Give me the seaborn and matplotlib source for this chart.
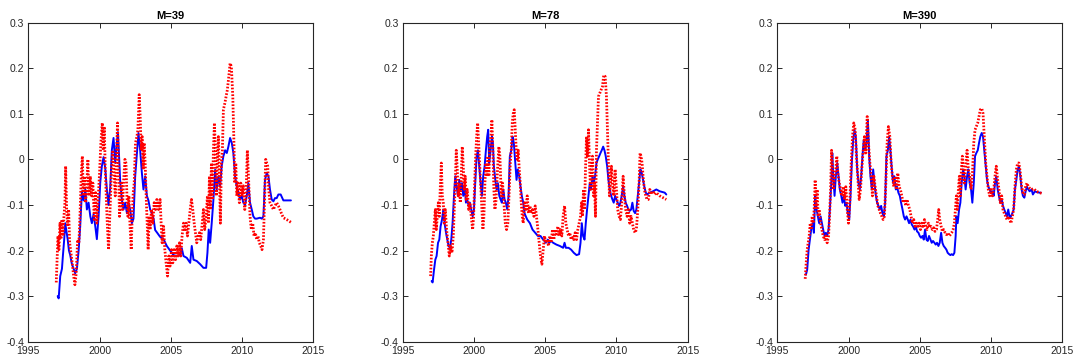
import matplotlib
matplotlib.use("Agg")
import matplotlib.pyplot as plt
from matplotlib.ticker import FuncFormatter
import seaborn as sns
import pandas as pd

# ---------------- data (year, value) ----------------
m39_blue = [(1997.06,-0.300),(1997.13,-0.305),(1997.24,-0.256),(1997.36,-0.240),(1997.43,-0.210),(1997.52,-0.175),(1997.59,-0.140),(1997.66,-0.155),(1997.76,-0.175),(1997.85,-0.200),(1997.94,-0.210),(1998.06,-0.230),(1998.18,-0.240),(1998.29,-0.250),(1998.41,-0.240),(1998.53,-0.200),(1998.64,-0.147),(1998.76,-0.070),(1998.88,-0.090),(1999.00,-0.066),(1999.11,-0.110),(1999.23,-0.095),(1999.35,-0.125),(1999.46,-0.140),(1999.58,-0.120),(1999.70,-0.147),(1999.81,-0.175),(1999.93,-0.125),(2000.05,-0.050),(2000.16,-0.015),(2000.28,0.005),(2000.40,-0.020),(2000.51,-0.066),(2000.63,-0.100),(2000.75,-0.060),(2000.86,0.020),(2000.98,0.047),(2001.10,-0.008),(2001.21,0.036),(2001.29,0.060),(2001.38,0.000),(2001.45,-0.050),(2001.57,-0.090),(2001.68,-0.110),(2001.80,-0.095),(2001.92,-0.118),(2002.03,-0.095),(2002.15,-0.110),(2002.27,-0.140),(2002.38,-0.130),(2002.50,-0.037),(2002.62,0.014),(2002.73,0.058),(2002.85,0.020),(2002.97,-0.030),(2003.08,-0.066),(2003.20,-0.037),(2003.32,-0.080),(2003.43,-0.090),(2003.55,-0.110),(2003.67,-0.118),(2003.79,-0.130),(2003.90,-0.155),(2004.02,-0.160),(2004.25,-0.170),(2004.49,-0.175),(2004.72,-0.190),(2004.95,-0.200),(2005.19,-0.210),(2005.42,-0.212),(2005.65,-0.210),(2005.77,-0.195),(2005.89,-0.212),(2006.12,-0.216),(2006.36,-0.227),(2006.47,-0.190),(2006.59,-0.220),(2006.82,-0.223),(2007.06,-0.230),(2007.29,-0.238),(2007.48,-0.238),(2007.57,-0.205),(2007.66,-0.154),(2007.76,-0.183),(2007.87,-0.140),(2007.99,-0.088),(2008.11,-0.023),(2008.22,-0.066),(2008.34,-0.037),(2008.46,-0.060),(2008.57,-0.015),(2008.69,0.007),(2008.81,0.020),(2008.93,0.014),(2009.04,0.028),(2009.16,0.047),(2009.28,0.036),(2009.39,0.014),(2009.51,-0.037),(2009.63,-0.060),(2009.74,-0.073),(2009.86,-0.088),(2009.98,-0.080),(2010.09,-0.095),(2010.21,-0.100),(2010.33,-0.080),(2010.44,-0.052),(2010.56,-0.095),(2010.68,-0.110),(2010.79,-0.125),(2010.91,-0.130),(2011.03,-0.130),(2011.26,-0.128),(2011.38,-0.130),(2011.50,-0.125),(2011.61,-0.045),(2011.73,-0.030),(2011.85,-0.037),(2011.96,-0.066),(2012.08,-0.088),(2012.20,-0.092),(2012.31,-0.085),(2012.43,-0.085),(2012.55,-0.077),(2012.71,-0.077),(2012.90,-0.090),(2013.13,-0.090),(2013.43,-0.090)]

m39_red = [(1996.96,-0.270),(1997.01,-0.227),(1997.08,-0.168),(1997.15,-0.198),(1997.22,-0.140),(1997.29,-0.175),(1997.36,-0.132),(1997.43,-0.168),(1997.50,-0.125),(1997.57,-0.095),(1997.62,-0.015),(1997.69,-0.110),(1997.76,-0.147),(1997.83,-0.110),(1997.90,-0.183),(1997.99,-0.205),(1998.08,-0.227),(1998.18,-0.256),(1998.27,-0.275),(1998.36,-0.250),(1998.46,-0.176),(1998.55,-0.183),(1998.64,-0.110),(1998.71,-0.037),(1998.79,0.007),(1998.86,-0.080),(1998.93,-0.037),(1999.02,-0.095),(1999.11,-0.052),(1999.18,0.000),(1999.25,-0.080),(1999.35,-0.037),(1999.44,-0.080),(1999.53,-0.052),(1999.63,-0.132),(1999.72,-0.073),(1999.81,-0.140),(1999.91,-0.080),(2000.00,-0.030),(2000.09,0.036),(2000.19,0.080),(2000.26,0.020),(2000.33,0.072),(2000.40,-0.022),(2000.47,-0.080),(2000.54,-0.140),(2000.63,-0.198),(2000.70,-0.140),(2000.77,-0.080),(2000.84,-0.022),(2000.93,0.020),(2001.03,-0.037),(2001.10,-0.080),(2001.17,-0.008),(2001.26,0.080),(2001.33,-0.022),(2001.40,-0.125),(2001.47,-0.095),(2001.54,-0.052),(2001.61,-0.110),(2001.68,-0.052),(2001.78,0.000),(2001.85,-0.008),(2001.92,-0.080),(2001.99,-0.125),(2002.06,-0.080),(2002.13,-0.140),(2002.22,-0.198),(2002.29,-0.125),(2002.36,-0.073),(2002.43,-0.052),(2002.52,0.036),(2002.62,0.050),(2002.69,0.065),(2002.78,0.142),(2002.85,0.094),(2002.92,0.020),(2002.99,0.050),(2003.06,-0.022),(2003.13,0.036),(2003.20,-0.008),(2003.27,-0.080),(2003.34,-0.140),(2003.41,-0.198),(2003.48,-0.125),(2003.55,-0.154),(2003.64,-0.110),(2003.74,-0.140),(2003.83,-0.095),(2003.93,-0.110),(2004.02,-0.088),(2004.14,-0.110),(2004.25,-0.088),(2004.32,-0.140),(2004.39,-0.183),(2004.49,-0.147),(2004.58,-0.198),(2004.67,-0.227),(2004.77,-0.256),(2004.86,-0.212),(2004.95,-0.234),(2005.05,-0.198),(2005.14,-0.227),(2005.23,-0.198),(2005.33,-0.220),(2005.42,-0.190),(2005.51,-0.212),(2005.61,-0.183),(2005.70,-0.212),(2005.79,-0.168),(2005.89,-0.140),(2005.98,-0.154),(2006.07,-0.140),(2006.17,-0.168),(2006.26,-0.140),(2006.36,-0.110),(2006.45,-0.088),(2006.54,-0.110),(2006.64,-0.140),(2006.73,-0.161),(2006.82,-0.183),(2006.92,-0.168),(2007.01,-0.161),(2007.10,-0.176),(2007.20,-0.140),(2007.29,-0.110),(2007.38,-0.154),(2007.48,-0.125),(2007.57,-0.080),(2007.64,-0.140),(2007.71,-0.037),(2007.78,-0.110),(2007.85,-0.008),(2007.92,-0.088),(2007.99,0.020),(2008.06,0.080),(2008.13,0.020),(2008.20,-0.080),(2008.27,0.007),(2008.34,0.050),(2008.41,-0.037),(2008.48,-0.140),(2008.55,-0.008),(2008.62,0.020),(2008.69,0.109),(2008.79,0.123),(2008.88,0.138),(2008.97,0.153),(2009.07,0.182),(2009.16,0.211),(2009.25,0.204),(2009.35,0.138),(2009.42,0.050),(2009.49,-0.052),(2009.56,-0.008),(2009.63,-0.080),(2009.72,-0.052),(2009.81,-0.095),(2009.91,-0.052),(2010.00,-0.080),(2010.09,-0.058),(2010.19,-0.110),(2010.28,-0.080),(2010.37,0.020),(2010.47,-0.052),(2010.56,-0.125),(2010.65,-0.154),(2010.75,-0.140),(2010.84,-0.168),(2010.93,-0.161),(2011.03,-0.176),(2011.12,-0.168),(2011.21,-0.183),(2011.31,-0.190),(2011.40,-0.198),(2011.50,-0.176),(2011.59,-0.080),(2011.66,0.000),(2011.73,-0.008),(2011.80,-0.015),(2011.87,-0.066),(2011.96,-0.095),(2012.08,-0.102),(2012.20,-0.110),(2012.31,-0.102),(2012.43,-0.095),(2012.55,-0.102),(2012.66,-0.110),(2012.78,-0.120),(2012.90,-0.128),(2013.13,-0.132),(2013.43,-0.138)]

m78_blue = [(1997.03,-0.267),(1997.10,-0.270),(1997.20,-0.242),(1997.29,-0.220),(1997.38,-0.212),(1997.48,-0.183),(1997.57,-0.176),(1997.66,-0.147),(1997.76,-0.132),(1997.85,-0.110),(1997.94,-0.140),(1998.04,-0.161),(1998.13,-0.176),(1998.22,-0.190),(1998.32,-0.194),(1998.41,-0.176),(1998.50,-0.140),(1998.60,-0.080),(1998.69,-0.037),(1998.79,-0.060),(1998.88,-0.080),(1998.97,-0.045),(1999.07,-0.066),(1999.16,-0.052),(1999.25,-0.080),(1999.35,-0.060),(1999.44,-0.095),(1999.53,-0.088),(1999.63,-0.102),(1999.72,-0.095),(1999.81,-0.110),(1999.91,-0.125),(2000.00,-0.110),(2000.09,-0.052),(2000.19,0.007),(2000.28,0.020),(2000.37,-0.015),(2000.47,-0.052),(2000.56,-0.080),(2000.65,-0.037),(2000.75,-0.015),(2000.84,0.020),(2000.93,0.050),(2001.00,0.065),(2001.07,-0.008),(2001.17,0.020),(2001.26,0.050),(2001.33,0.036),(2001.40,-0.015),(2001.50,-0.045),(2001.59,-0.066),(2001.68,-0.052),(2001.78,-0.080),(2001.87,-0.088),(2001.96,-0.095),(2002.06,-0.066),(2002.15,-0.088),(2002.24,-0.095),(2002.34,-0.110),(2002.43,-0.080),(2002.52,0.007),(2002.62,0.020),(2002.71,0.050),(2002.80,0.036),(2002.90,-0.008),(2002.99,-0.045),(2003.08,-0.022),(2003.18,-0.037),(2003.27,-0.060),(2003.36,-0.080),(2003.46,-0.095),(2003.55,-0.118),(2003.64,-0.125),(2003.74,-0.132),(2003.93,-0.140),(2004.11,-0.154),(2004.30,-0.161),(2004.49,-0.168),(2004.67,-0.168),(2004.86,-0.176),(2005.05,-0.183),(2005.19,-0.176),(2005.28,-0.183),(2005.42,-0.179),(2005.56,-0.183),(2005.79,-0.187),(2006.03,-0.190),(2006.26,-0.194),(2006.36,-0.183),(2006.45,-0.194),(2006.64,-0.194),(2006.82,-0.198),(2007.01,-0.205),(2007.20,-0.210),(2007.38,-0.208),(2007.48,-0.183),(2007.57,-0.140),(2007.66,-0.168),(2007.76,-0.176),(2007.85,-0.140),(2007.94,-0.110),(2008.04,-0.080),(2008.13,-0.052),(2008.22,-0.066),(2008.32,-0.037),(2008.41,-0.052),(2008.50,-0.037),(2008.60,-0.008),(2008.69,0.000),(2008.79,0.007),(2008.88,0.014),(2008.97,0.020),(2009.07,0.028),(2009.16,0.020),(2009.25,0.007),(2009.35,-0.015),(2009.44,-0.045),(2009.53,-0.066),(2009.63,-0.080),(2009.72,-0.088),(2009.81,-0.095),(2009.91,-0.080),(2010.00,-0.088),(2010.09,-0.095),(2010.19,-0.102),(2010.28,-0.095),(2010.37,-0.080),(2010.47,-0.060),(2010.56,-0.080),(2010.65,-0.095),(2010.75,-0.102),(2010.84,-0.110),(2010.93,-0.113),(2011.03,-0.110),(2011.12,-0.095),(2011.21,-0.113),(2011.31,-0.118),(2011.40,-0.110),(2011.50,-0.080),(2011.59,-0.052),(2011.68,-0.022),(2011.78,-0.030),(2011.87,-0.045),(2011.96,-0.060),(2012.06,-0.073),(2012.15,-0.077),(2012.34,-0.073),(2012.57,-0.070),(2012.80,-0.066),(2013.04,-0.070),(2013.39,-0.073),(2013.50,-0.077)]

m78_red = [(1996.96,-0.256),(1997.01,-0.212),(1997.08,-0.183),(1997.15,-0.168),(1997.22,-0.140),(1997.29,-0.110),(1997.36,-0.154),(1997.43,-0.125),(1997.50,-0.095),(1997.57,-0.125),(1997.64,-0.060),(1997.71,-0.008),(1997.78,-0.080),(1997.85,-0.095),(1997.92,-0.140),(1997.99,-0.110),(1998.08,-0.154),(1998.18,-0.183),(1998.27,-0.212),(1998.36,-0.190),(1998.46,-0.205),(1998.55,-0.168),(1998.62,-0.110),(1998.69,-0.052),(1998.76,0.020),(1998.83,-0.022),(1998.90,-0.080),(1998.97,-0.052),(1999.04,-0.095),(1999.11,-0.037),(1999.18,0.028),(1999.25,-0.015),(1999.32,-0.066),(1999.39,-0.037),(1999.46,-0.088),(1999.53,-0.066),(1999.63,-0.110),(1999.72,-0.095),(1999.81,-0.125),(1999.91,-0.154),(1999.98,-0.125),(2000.05,-0.052),(2000.12,0.007),(2000.19,0.050),(2000.26,0.080),(2000.33,0.036),(2000.40,-0.008),(2000.47,-0.052),(2000.56,-0.110),(2000.63,-0.154),(2000.70,-0.125),(2000.77,-0.052),(2000.84,-0.008),(2000.91,-0.037),(2000.98,0.007),(2001.05,-0.037),(2001.12,0.036),(2001.19,0.050),(2001.26,0.087),(2001.33,0.020),(2001.40,-0.066),(2001.47,-0.110),(2001.54,-0.095),(2001.61,-0.052),(2001.68,-0.008),(2001.75,0.028),(2001.82,0.007),(2001.92,-0.080),(2002.01,-0.052),(2002.10,-0.095),(2002.20,-0.140),(2002.29,-0.154),(2002.38,-0.140),(2002.48,-0.066),(2002.55,-0.008),(2002.62,0.020),(2002.69,0.080),(2002.76,0.101),(2002.83,0.109),(2002.90,0.065),(2002.97,0.020),(2003.04,0.000),(2003.11,0.020),(2003.18,-0.022),(2003.25,-0.052),(2003.32,-0.095),(2003.39,-0.125),(2003.46,-0.140),(2003.55,-0.095),(2003.64,-0.110),(2003.74,-0.080),(2003.83,-0.118),(2003.93,-0.102),(2004.02,-0.118),(2004.11,-0.110),(2004.21,-0.125),(2004.30,-0.102),(2004.39,-0.125),(2004.49,-0.154),(2004.58,-0.183),(2004.67,-0.212),(2004.77,-0.230),(2004.86,-0.198),(2004.95,-0.168),(2005.05,-0.183),(2005.14,-0.176),(2005.23,-0.190),(2005.33,-0.168),(2005.42,-0.183),(2005.51,-0.154),(2005.61,-0.176),(2005.70,-0.154),(2005.79,-0.168),(2005.89,-0.147),(2005.98,-0.168),(2006.07,-0.154),(2006.17,-0.168),(2006.26,-0.125),(2006.36,-0.102),(2006.45,-0.140),(2006.54,-0.154),(2006.64,-0.168),(2006.73,-0.161),(2006.82,-0.176),(2006.92,-0.168),(2007.01,-0.176),(2007.10,-0.161),(2007.20,-0.176),(2007.29,-0.154),(2007.38,-0.140),(2007.48,-0.125),(2007.55,-0.095),(2007.62,-0.125),(2007.69,-0.066),(2007.76,-0.110),(2007.83,-0.022),(2007.90,0.050),(2007.97,0.007),(2008.04,0.065),(2008.11,-0.008),(2008.18,-0.066),(2008.25,-0.022),(2008.32,0.007),(2008.39,-0.080),(2008.46,-0.052),(2008.53,-0.125),(2008.60,0.020),(2008.67,0.080),(2008.74,0.138),(2008.83,0.145),(2008.93,0.153),(2009.02,0.160),(2009.11,0.185),(2009.21,0.182),(2009.30,0.138),(2009.37,0.065),(2009.44,-0.008),(2009.51,-0.080),(2009.58,-0.052),(2009.65,-0.015),(2009.72,-0.052),(2009.81,-0.080),(2009.91,-0.022),(2010.00,-0.066),(2010.09,-0.110),(2010.19,-0.125),(2010.28,-0.132),(2010.37,-0.095),(2010.47,-0.037),(2010.56,-0.080),(2010.65,-0.110),(2010.75,-0.125),(2010.84,-0.110),(2010.93,-0.140),(2011.03,-0.125),(2011.12,-0.140),(2011.21,-0.154),(2011.31,-0.161),(2011.40,-0.154),(2011.50,-0.110),(2011.59,-0.052),(2011.66,0.014),(2011.73,0.007),(2011.80,-0.008),(2011.87,-0.037),(2011.96,-0.066),(2012.06,-0.080),(2012.15,-0.088),(2012.24,-0.088),(2012.34,-0.066),(2012.45,-0.073),(2012.57,-0.070),(2012.69,-0.077),(2012.80,-0.073),(2013.04,-0.080),(2013.27,-0.084),(2013.50,-0.088)]

m390_blue = [(1997.01,-0.253),(1997.10,-0.242),(1997.20,-0.198),(1997.29,-0.176),(1997.38,-0.154),(1997.48,-0.140),(1997.57,-0.161),(1997.66,-0.080),(1997.76,-0.110),(1997.85,-0.125),(1997.94,-0.140),(1998.04,-0.125),(1998.13,-0.140),(1998.22,-0.154),(1998.32,-0.168),(1998.41,-0.161),(1998.50,-0.168),(1998.60,-0.154),(1998.69,-0.110),(1998.79,-0.052),(1998.86,0.014),(1998.93,-0.037),(1999.02,-0.080),(1999.11,-0.037),(1999.21,-0.008),(1999.30,-0.037),(1999.39,-0.066),(1999.49,-0.080),(1999.58,-0.095),(1999.67,-0.080),(1999.77,-0.102),(1999.86,-0.095),(1999.95,-0.118),(2000.05,-0.132),(2000.14,-0.080),(2000.23,-0.008),(2000.33,0.043),(2000.42,0.065),(2000.51,0.050),(2000.61,-0.022),(2000.70,-0.052),(2000.79,-0.066),(2000.89,-0.037),(2000.98,0.007),(2001.07,0.043),(2001.17,0.020),(2001.26,0.036),(2001.36,0.087),(2001.45,0.007),(2001.54,-0.037),(2001.64,-0.066),(2001.73,-0.022),(2001.82,-0.052),(2001.92,-0.080),(2002.01,-0.095),(2002.10,-0.102),(2002.20,-0.110),(2002.29,-0.102),(2002.38,-0.118),(2002.48,-0.125),(2002.57,-0.095),(2002.66,0.007),(2002.76,0.020),(2002.85,0.050),(2002.94,0.020),(2003.04,-0.022),(2003.13,-0.052),(2003.22,-0.037),(2003.32,-0.066),(2003.41,-0.060),(2003.50,-0.073),(2003.60,-0.080),(2003.69,-0.095),(2003.79,-0.110),(2003.88,-0.125),(2003.97,-0.132),(2004.07,-0.125),(2004.16,-0.132),(2004.25,-0.140),(2004.35,-0.132),(2004.44,-0.143),(2004.53,-0.147),(2004.63,-0.154),(2004.72,-0.147),(2004.81,-0.158),(2004.91,-0.161),(2005.00,-0.168),(2005.09,-0.172),(2005.19,-0.168),(2005.28,-0.176),(2005.37,-0.154),(2005.47,-0.176),(2005.56,-0.179),(2005.65,-0.168),(2005.75,-0.176),(2005.84,-0.183),(2005.93,-0.179),(2006.03,-0.183),(2006.12,-0.187),(2006.21,-0.183),(2006.31,-0.190),(2006.40,-0.183),(2006.50,-0.161),(2006.59,-0.183),(2006.68,-0.190),(2006.78,-0.194),(2006.87,-0.198),(2006.96,-0.205),(2007.06,-0.208),(2007.15,-0.210),(2007.24,-0.208),(2007.34,-0.210),(2007.43,-0.205),(2007.52,-0.168),(2007.57,-0.125),(2007.66,-0.140),(2007.76,-0.110),(2007.85,-0.095),(2007.94,-0.052),(2008.04,-0.022),(2008.13,-0.037),(2008.22,-0.066),(2008.32,-0.037),(2008.41,-0.022),(2008.50,-0.052),(2008.60,-0.066),(2008.69,-0.095),(2008.79,-0.052),(2008.88,0.007),(2008.97,0.014),(2009.07,0.020),(2009.16,0.036),(2009.25,0.050),(2009.35,0.058),(2009.44,0.050),(2009.53,0.020),(2009.63,-0.015),(2009.72,-0.045),(2009.81,-0.060),(2009.91,-0.066),(2010.00,-0.073),(2010.09,-0.070),(2010.19,-0.080),(2010.28,-0.052),(2010.37,-0.037),(2010.47,-0.066),(2010.56,-0.080),(2010.65,-0.095),(2010.75,-0.088),(2010.84,-0.102),(2010.93,-0.110),(2011.03,-0.118),(2011.12,-0.125),(2011.21,-0.110),(2011.31,-0.128),(2011.40,-0.125),(2011.50,-0.118),(2011.59,-0.110),(2011.68,-0.066),(2011.78,-0.045),(2011.87,-0.022),(2011.96,-0.015),(2012.06,-0.037),(2012.15,-0.066),(2012.24,-0.080),(2012.34,-0.084),(2012.43,-0.070),(2012.52,-0.060),(2012.62,-0.066),(2012.71,-0.070),(2012.85,-0.066),(2012.94,-0.077),(2013.08,-0.070),(2013.22,-0.072),(2013.41,-0.073),(2013.50,-0.073)]

m390_red = [(1996.96,-0.262),(1997.03,-0.227),(1997.10,-0.198),(1997.17,-0.183),(1997.24,-0.168),(1997.31,-0.140),(1997.38,-0.154),(1997.45,-0.125),(1997.52,-0.140),(1997.59,-0.110),(1997.66,-0.045),(1997.73,-0.110),(1997.80,-0.066),(1997.87,-0.125),(1997.94,-0.110),(1998.04,-0.140),(1998.13,-0.154),(1998.22,-0.168),(1998.32,-0.176),(1998.41,-0.168),(1998.50,-0.183),(1998.60,-0.168),(1998.67,-0.125),(1998.74,-0.066),(1998.81,0.020),(1998.88,-0.022),(1998.95,-0.066),(1999.02,-0.037),(1999.11,-0.022),(1999.18,0.007),(1999.25,-0.030),(1999.35,-0.052),(1999.44,-0.066),(1999.53,-0.080),(1999.63,-0.060),(1999.72,-0.088),(1999.81,-0.060),(1999.91,-0.110),(2000.00,-0.140),(2000.09,-0.095),(2000.19,-0.008),(2000.28,0.050),(2000.37,0.080),(2000.47,0.065),(2000.56,0.007),(2000.65,-0.037),(2000.75,-0.088),(2000.84,-0.066),(2000.93,-0.022),(2001.03,0.020),(2001.12,0.050),(2001.21,0.014),(2001.31,0.094),(2001.40,0.036),(2001.50,-0.008),(2001.59,-0.037),(2001.68,-0.080),(2001.78,-0.037),(2001.87,-0.060),(2001.96,-0.080),(2002.06,-0.102),(2002.15,-0.110),(2002.24,-0.118),(2002.34,-0.125),(2002.43,-0.132),(2002.52,-0.125),(2002.62,-0.052),(2002.71,0.036),(2002.80,0.072),(2002.90,0.050),(2002.99,-0.008),(2003.08,-0.037),(2003.18,-0.060),(2003.27,-0.037),(2003.36,-0.066),(2003.46,-0.030),(2003.55,-0.060),(2003.64,-0.066),(2003.74,-0.080),(2003.83,-0.095),(2003.93,-0.088),(2004.02,-0.102),(2004.11,-0.088),(2004.21,-0.102),(2004.30,-0.110),(2004.39,-0.125),(2004.49,-0.140),(2004.58,-0.132),(2004.67,-0.147),(2004.77,-0.140),(2004.86,-0.147),(2004.95,-0.140),(2005.05,-0.154),(2005.14,-0.140),(2005.23,-0.147),(2005.33,-0.132),(2005.42,-0.147),(2005.51,-0.154),(2005.61,-0.140),(2005.70,-0.150),(2005.79,-0.147),(2005.89,-0.154),(2005.98,-0.150),(2006.07,-0.158),(2006.17,-0.154),(2006.26,-0.132),(2006.33,-0.110),(2006.40,-0.132),(2006.50,-0.147),(2006.59,-0.158),(2006.68,-0.154),(2006.78,-0.161),(2006.87,-0.165),(2006.96,-0.161),(2007.06,-0.168),(2007.15,-0.165),(2007.24,-0.161),(2007.34,-0.154),(2007.43,-0.140),(2007.50,-0.110),(2007.57,-0.080),(2007.64,-0.110),(2007.71,-0.066),(2007.78,-0.037),(2007.85,-0.080),(2007.92,-0.022),(2007.99,0.007),(2008.06,-0.022),(2008.13,-0.052),(2008.22,-0.015),(2008.32,0.020),(2008.41,-0.022),(2008.50,-0.037),(2008.60,-0.066),(2008.69,-0.037),(2008.79,0.036),(2008.88,0.065),(2008.97,0.072),(2009.07,0.080),(2009.16,0.094),(2009.25,0.109),(2009.35,0.112),(2009.44,0.101),(2009.53,0.050),(2009.63,-0.008),(2009.72,-0.037),(2009.81,-0.066),(2009.91,-0.080),(2010.00,-0.066),(2010.09,-0.080),(2010.19,-0.066),(2010.28,-0.037),(2010.37,-0.015),(2010.47,-0.045),(2010.56,-0.066),(2010.65,-0.095),(2010.75,-0.080),(2010.84,-0.110),(2010.93,-0.118),(2011.03,-0.125),(2011.12,-0.132),(2011.21,-0.125),(2011.31,-0.132),(2011.40,-0.140),(2011.50,-0.125),(2011.59,-0.110),(2011.68,-0.060),(2011.78,-0.022),(2011.87,-0.008),(2011.96,-0.008),(2012.06,-0.030),(2012.15,-0.060),(2012.24,-0.073),(2012.34,-0.077),(2012.43,-0.060),(2012.52,-0.052),(2012.62,-0.060),(2012.71,-0.063),(2012.85,-0.066),(2012.99,-0.064),(2013.18,-0.070),(2013.41,-0.073),(2013.60,-0.075)]

titles = ["M=39", "M=78", "M=390"]
x_ticks = [1995, 2000, 2005, 2010, 2015]
y_ticks = [-0.4, -0.3, -0.2, -0.1, 0, 0.1, 0.2, 0.3]

# ---------------- plotting ----------------
sns.set_style("ticks")
plt.rcParams['font.family'] = ['Liberation Sans', 'DejaVu Sans']

fig = plt.figure(figsize=(10.77, 3.61), dpi=100)
lefts = [0.0263, 0.3739, 0.7217]
panels = [(m39_blue, m39_red), (m78_blue, m78_red), (m390_blue, m390_red)]
edge = '#262626'

for left, title, (blue, red) in zip(lefts, titles, panels):
    ax = fig.add_axes([left, 0.0535, 0.2646, 0.8837])
    dfb = pd.DataFrame(blue, columns=["year", "value"])
    dfr = pd.DataFrame(red, columns=["year", "value"])
    sns.lineplot(data=dfb, x="year", y="value", ax=ax, color='#0000ff',
                 linewidth=1.4, estimator=None, sort=False)
    sns.lineplot(data=dfr, x="year", y="value", ax=ax, color='#ff0000',
                 linewidth=2.0, estimator=None, sort=False, linestyle=(0, (0.6, 0.6)))
    ax.set_xlim(1995, 2015)
    ax.set_ylim(-0.4, 0.3)
    ax.set_xticks(x_ticks)
    ax.set_yticks(y_ticks)
    ax.yaxis.set_major_formatter(FuncFormatter(lambda v, p: f"{v:g}" if abs(v) > 1e-9 else "0"))
    ax.set_xlabel("")
    ax.set_ylabel("")
    ax.tick_params(direction='in', top=True, right=True, length=3.5, width=0.7,
                   labelsize=7.5, colors=edge, pad=3)
    for s in ax.spines.values():
        s.set_visible(True)
        s.set_linewidth(0.8)
        s.set_color(edge)
    ax.set_title(title, fontsize=8, fontweight='bold', pad=3, color='black')

fig.savefig("out.png", dpi=100)
